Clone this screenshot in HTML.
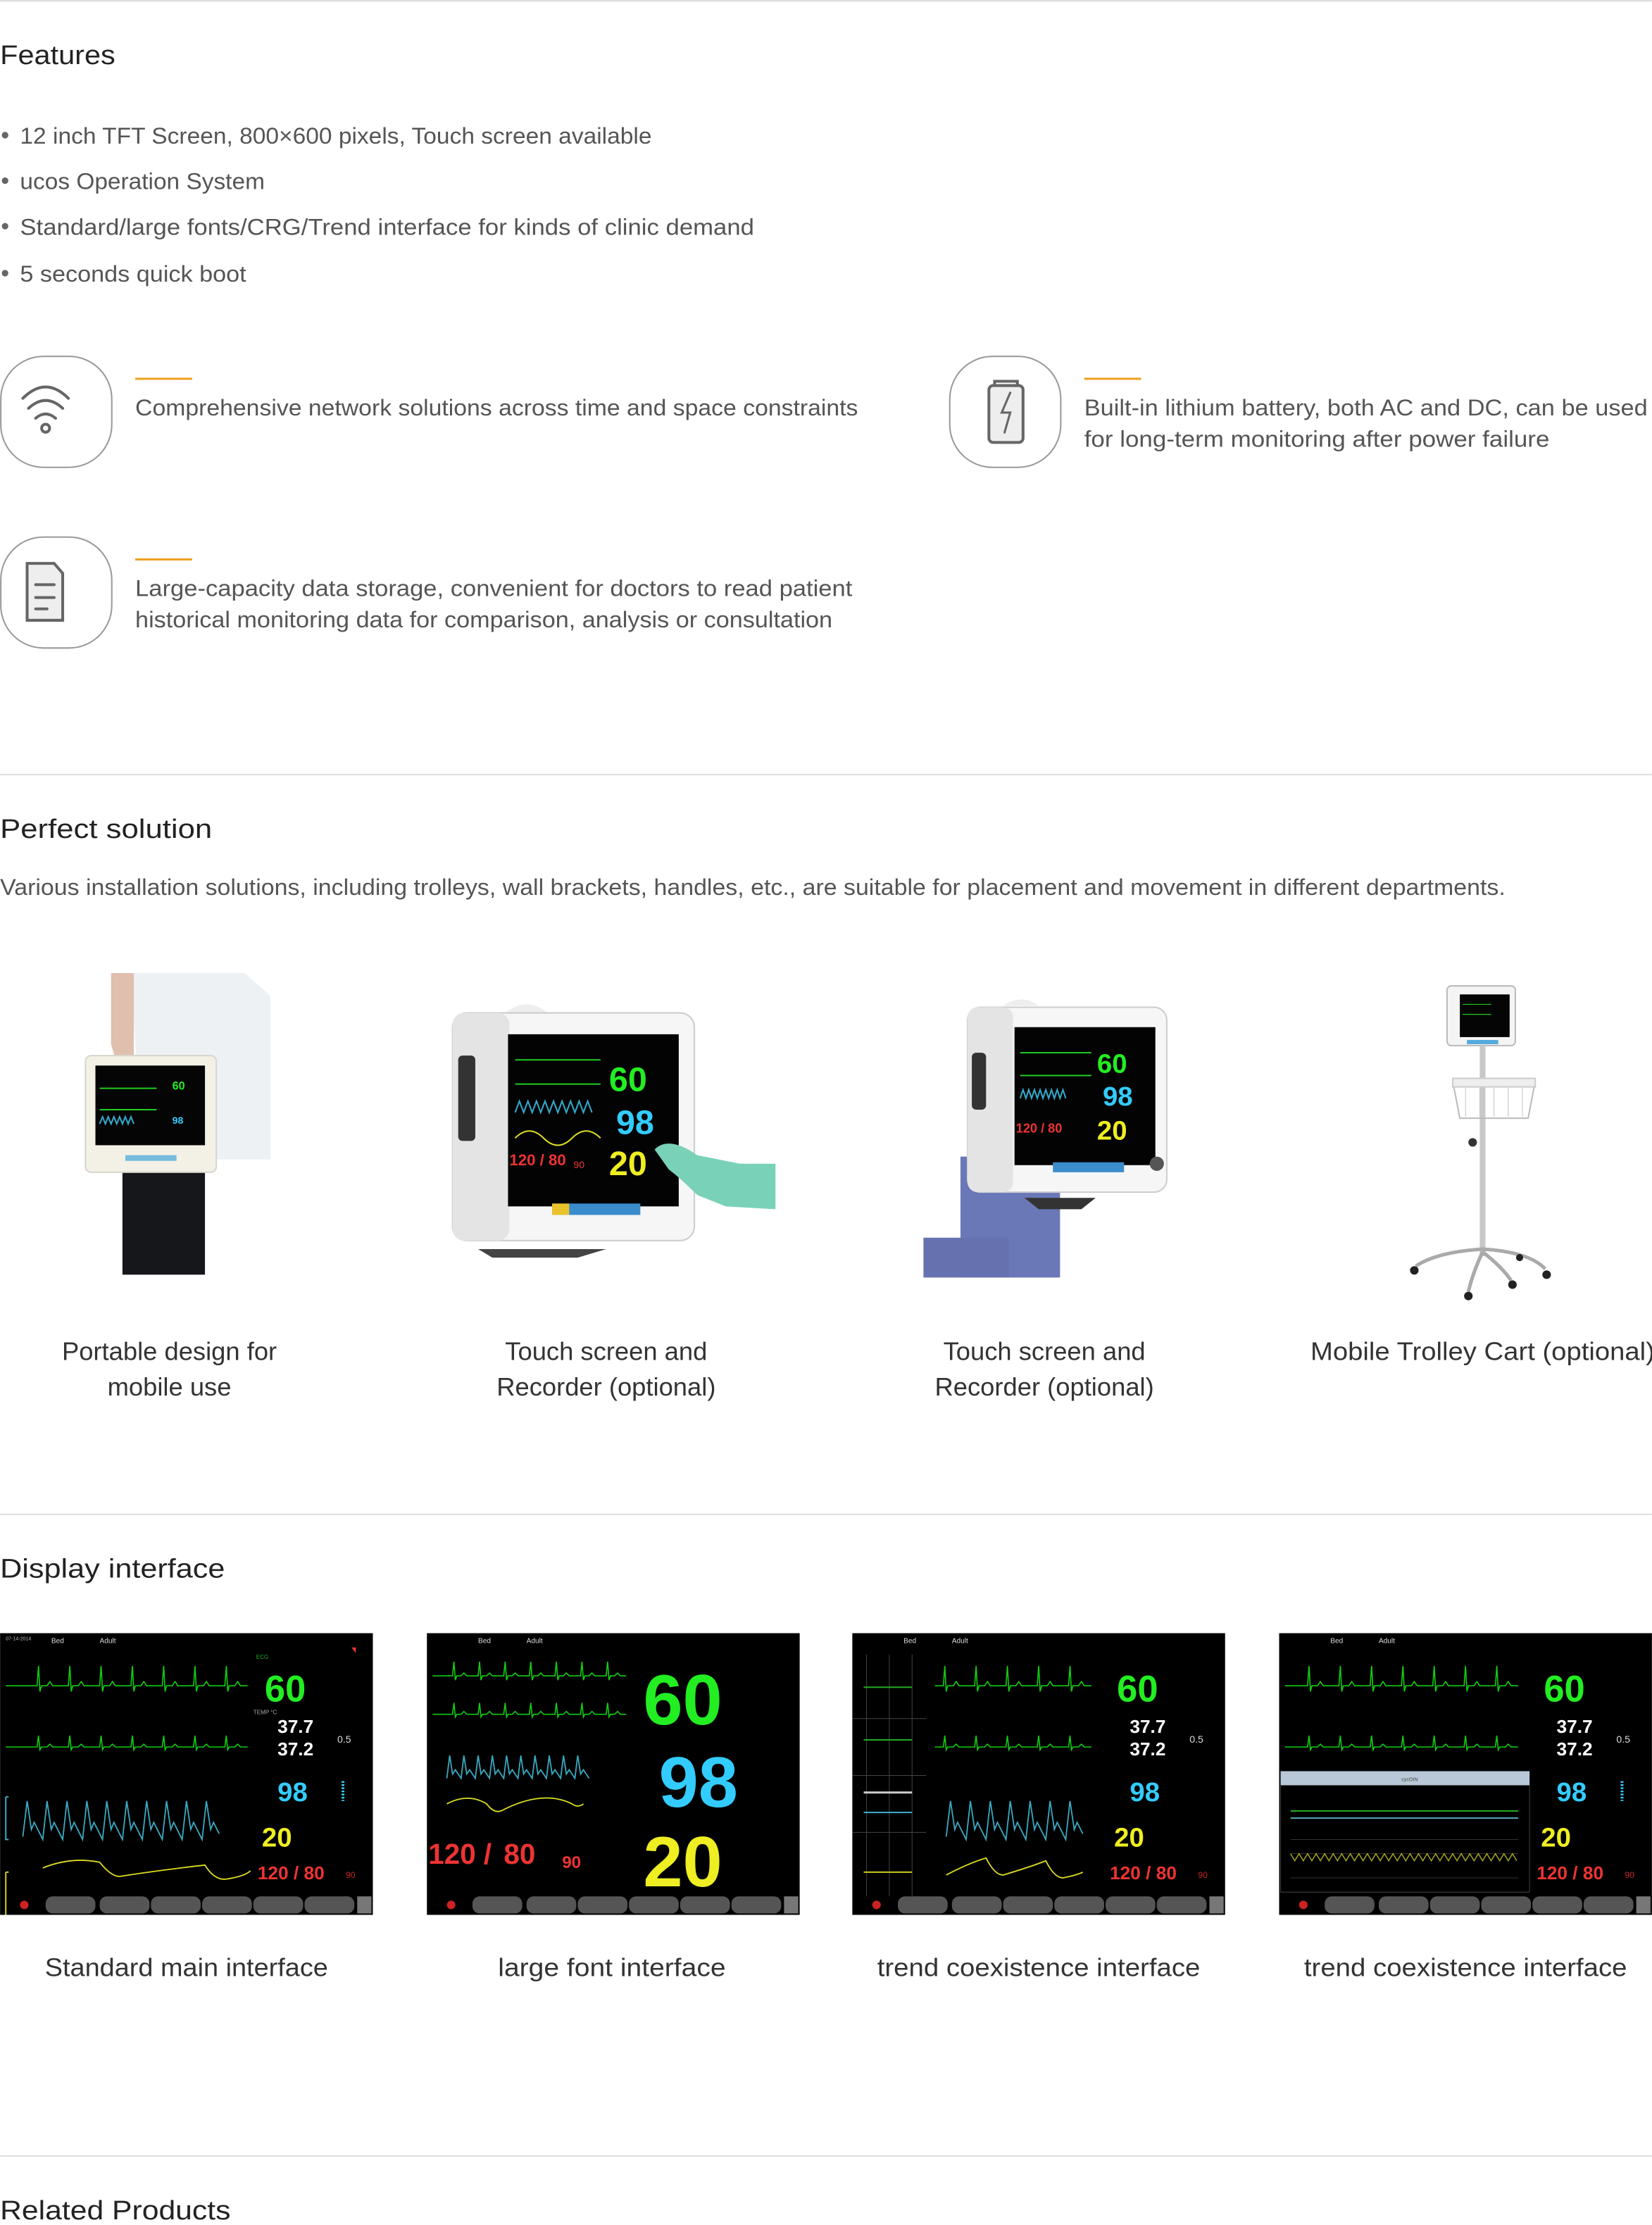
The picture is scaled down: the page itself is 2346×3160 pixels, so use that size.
<!DOCTYPE html>
<html><head><meta charset="utf-8"><style>
html,body{margin:0;padding:0;background:#fff;}
svg{display:block;}
text{font-family:"Liberation Sans",sans-serif;}
.h{font-size:19px;fill:#222;}
.b{font-size:16px;fill:#555;}
.c{font-size:18px;fill:#333;text-anchor:middle;}
.n{font-family:"Liberation Sans",sans-serif;font-weight:bold;}
</style></head><body>
<svg width="2346" height="3160" viewBox="0 0 1161 1564" xmlns="http://www.w3.org/2000/svg">
<rect width="1161" height="1564" fill="#fff"/>
<line x1="0" y1="0.5" x2="1161" y2="0.5" stroke="#ddd" stroke-width="1.5"/>
<text class="h" x="0" y="45" textLength="81" lengthAdjust="spacingAndGlyphs">Features</text>
<g fill="#666"><circle cx="3.5" cy="95" r="2.3"/><circle cx="3.5" cy="127" r="2.3"/><circle cx="3.5" cy="159" r="2.3"/><circle cx="3.5" cy="192" r="2.3"/></g>
<text class="b" x="14" y="101" textLength="444" lengthAdjust="spacingAndGlyphs">12 inch TFT Screen, 800×600 pixels, Touch screen available</text>
<text class="b" x="14" y="133" textLength="172" lengthAdjust="spacingAndGlyphs">ucos Operation System</text>
<text class="b" x="14" y="165" textLength="516" lengthAdjust="spacingAndGlyphs">Standard/large fonts/CRG/Trend interface for kinds of clinic demand</text>
<text class="b" x="14" y="198" textLength="159" lengthAdjust="spacingAndGlyphs">5 seconds quick boot</text>

<!-- icons -->
<g fill="none" stroke="#999" stroke-width="1">
<rect x="0.5" y="250.5" width="78" height="78" rx="30"/>
<rect x="667.5" y="250.5" width="78" height="78" rx="30"/>
<rect x="0.5" y="377.5" width="78" height="78" rx="30"/>
</g>
<g fill="none" stroke="#666" stroke-width="2" stroke-linecap="round">
<path d="M16,280 Q32,264 48,280"/><path d="M20,287 Q32,276 44,287"/><path d="M25,294 Q32,288 39,294"/>
<circle cx="32" cy="301" r="2.8"/>
<rect x="695" y="271" width="24" height="40" rx="3" fill="#eee"/>
<path d="M699,271 v-3 h16 v3"/>
<path d="M710,276 l-6,14 h6 l-4,14" stroke-width="1.5"/>
<path d="M19,396 h19 l6,7 v33 h-25 z" fill="#eee"/>
<path d="M25,411 h13 M25,420 h13 M25,428 h8"/>
</g>
<g fill="#f0a020"><rect x="95" y="265.5" width="40" height="1.5"/><rect x="762" y="265.5" width="40" height="1.5"/><rect x="95" y="392.5" width="40" height="1.5"/></g>
<text class="b" x="95" y="292" textLength="508" lengthAdjust="spacingAndGlyphs">Comprehensive network solutions across time and space constraints</text>
<text class="b" x="762" y="292" textLength="396" lengthAdjust="spacingAndGlyphs">Built-in lithium battery, both AC and DC, can be used</text>
<text class="b" x="762" y="314" textLength="327" lengthAdjust="spacingAndGlyphs">for long-term monitoring after power failure</text>
<text class="b" x="95" y="419" textLength="504" lengthAdjust="spacingAndGlyphs">Large-capacity data storage, convenient for doctors to read patient</text>
<text class="b" x="95" y="441" textLength="490" lengthAdjust="spacingAndGlyphs">historical monitoring data for comparison, analysis or consultation</text>

<line x1="0" y1="544.5" x2="1161" y2="544.5" stroke="#ddd" stroke-width="1"/>
<text class="h" x="0" y="589" textLength="149" lengthAdjust="spacingAndGlyphs">Perfect solution</text>
<text class="b" x="0" y="629" textLength="1058" lengthAdjust="spacingAndGlyphs">Various installation solutions, including trolleys, wall brackets, handles, etc., are suitable for placement and movement in different departments.</text>

<!-- product 1 -->
<path d="M92,684 H172 L190,700 V815 H100 Z" fill="#eef1f4"/>
<path d="M78,684 h16 v60 l8,10 h-18 l-6,-20 z" fill="#e0bfae"/>
<rect x="86" y="818" width="58" height="78" fill="#15171b"/>
<rect x="60" y="742" width="92" height="82" rx="4" fill="#f3f1e6" stroke="#d8d6cc"/>
<rect x="67" y="749" width="77" height="56" fill="#050505"/>
<path d="M70,765 h40 M70,780 h40" stroke="#2c2" stroke-width="1"/>
<path d="M70,790 l2,-5 2,5 2,-5 2,5 2,-5 2,5 2,-5 2,5 2,-5 2,5 2,-5 2,5" stroke="#3ac" fill="none"/>
<text x="121" y="766" font-size="8" fill="#2e2" class="n">60</text>
<text x="121" y="790" font-size="7" fill="#3cf" class="n">98</text>
<rect x="88" y="812" width="36" height="4" fill="#7bd"/>
<!-- product 2 -->
<path d="M355,712 Q370,700 385,712 Z" fill="#eee"/>
<rect x="318" y="712" width="170" height="160" rx="10" fill="#f6f6f6" stroke="#ccc"/>
<rect x="318" y="712" width="40" height="160" rx="8" fill="#e4e4e4"/>
<rect x="322" y="742" width="12" height="60" rx="3" fill="#333"/>
<rect x="357" y="727" width="120" height="121" fill="#030303"/>
<path d="M362,745 h60 M362,762 h60" stroke="#2c2"/>
<path d="M362,782 l3,-8 3,8 3,-8 3,8 3,-8 3,8 3,-8 3,8 3,-8 3,8 3,-8 3,8 3,-8 3,8 3,-8 3,8 3,-8 3,8" stroke="#3ac" fill="none"/>
<path d="M362,800 q10,-10 20,0 t20,0 t20,0" stroke="#dd2" fill="none"/>
<text x="428" y="767" font-size="24" fill="#2e2" class="n">60</text>
<text x="433" y="797" font-size="24" fill="#3cf" class="n">98</text>
<text x="428" y="826" font-size="24" fill="#ee2" class="n">20</text>
<text x="358" y="819" font-size="11" fill="#e33" class="n">120 / 80</text>
<text x="403" y="821" font-size="7" fill="#e33">90</text>
<rect x="388" y="846" width="62" height="8" fill="#3a8ccc"/>
<rect x="388" y="846" width="12" height="8" fill="#ecc22a"/>
<path d="M460,808 Q470,798 490,812 L520,818 L545,818 L545,850 L510,848 L490,840 Q478,828 470,822 Z" fill="#79d2b8"/>
<path d="M336,878 h90 l-20,6 h-60 z" fill="#444"/>
<!-- product 3 -->
<path d="M705,707 Q718,698 730,707 Z" fill="#eee"/>
<rect x="675" y="813" width="70" height="85" fill="#6a78b8"/>
<rect x="649" y="870" width="60" height="28" fill="#6672b0"/>
<rect x="680" y="708" width="140" height="130" rx="9" fill="#f6f6f6" stroke="#ccc"/>
<rect x="680" y="708" width="32" height="130" rx="7" fill="#e4e4e4"/>
<rect x="683" y="740" width="10" height="40" rx="3" fill="#333"/>
<rect x="713" y="722" width="99" height="97" fill="#030303"/>
<path d="M717,740 h50 M717,756 h50" stroke="#2c2"/>
<path d="M717,772 l2,-6 2,6 2,-6 2,6 2,-6 2,6 2,-6 2,6 2,-6 2,6 2,-6 2,6 2,-6 2,6 2,-6 2,6" stroke="#3ac" fill="none"/>
<text x="771" y="754" font-size="19" fill="#2e2" class="n">60</text>
<text x="775" y="777" font-size="19" fill="#3cf" class="n">98</text>
<text x="771" y="801" font-size="19" fill="#ee2" class="n">20</text>
<text x="714" y="796" font-size="9" fill="#e33" class="n">120 / 80</text>
<rect x="740" y="817" width="50" height="7" fill="#3a8ccc"/>
<circle cx="813" cy="818" r="5" fill="#555"/>
<path d="M720,842 h50 l-10,8 h-30 z" fill="#333"/>
<!-- product 4 trolley -->
<rect x="1017" y="693" width="48" height="42" rx="3" fill="#f4f4f4" stroke="#bbb"/>
<rect x="1026" y="699" width="35" height="30" fill="#050505"/>
<path d="M1028,706 h20 M1028,713 h20" stroke="#2c2" stroke-width="0.6"/>
<rect x="1031" y="731" width="22" height="3" fill="#5ad"/>
<rect x="1040" y="735" width="4" height="148" fill="#c8c8c8"/>
<path d="M1021,760 h58 l-5,26 h-48 z" fill="none" stroke="#bbb"/>
<rect x="1021" y="758" width="58" height="6" fill="#eee" stroke="#ccc"/>
<path d="M1030,765 v20 M1040,765 v20 M1050,765 v20 M1060,765 v20 M1070,765 v20" stroke="#ccc" stroke-width="0.6"/>
<circle cx="1035" cy="803" r="3" fill="#333"/>
<g stroke="#aaa" stroke-width="2.5" fill="none">
<path d="M1042,878 Q1010,880 995,890"/><path d="M1042,878 Q1075,880 1086,892"/><path d="M1042,880 Q1035,895 1032,908"/><path d="M1042,880 Q1055,890 1062,900"/>
</g>
<g fill="#222"><circle cx="994" cy="893" r="3"/><circle cx="1087" cy="896" r="3"/><circle cx="1032" cy="911" r="3"/><circle cx="1063" cy="903" r="3"/><circle cx="1068" cy="884" r="2.5"/></g>

<text class="c" x="119" y="956">Portable design for</text>
<text class="c" x="119" y="981">mobile use</text>
<text class="c" x="426" y="956">Touch screen and</text>
<text class="c" x="426" y="981">Recorder (optional)</text>
<text class="c" x="734" y="956">Touch screen and</text>
<text class="c" x="734" y="981">Recorder (optional)</text>
<text class="c" x="1042" y="956" textLength="242" lengthAdjust="spacingAndGlyphs">Mobile Trolley Cart (optional)</text>

<line x1="0" y1="1064.5" x2="1161" y2="1064.5" stroke="#ddd" stroke-width="1"/>
<text class="h" x="0" y="1109" textLength="158" lengthAdjust="spacingAndGlyphs">Display interface</text>

<!-- Screen 1 -->
<g transform="translate(0,1148)">
<rect width="262" height="198" fill="#000"/>
<text x="4" y="5" font-size="3.5" fill="#bbb">07-14-2014</text><text x="36" y="7" font-size="5" fill="#ddd">Bed</text><text x="70" y="7" font-size="5" fill="#ddd">Adult</text>
<text x="180" y="18" font-size="4" fill="#2a2">ECG</text>
<path d="M4,37 h10 l6,0 h6 l1,-14 l1,18 l1,-4 h4 l2,-3 l2,3 h5 h6 l1,-14 l1,18 l1,-4 h4 l2,-3 l2,3 h5 h6 l1,-14 l1,18 l1,-4 h4 l2,-3 l2,3 h5 h6 l1,-14 l1,18 l1,-4 h4 l2,-3 l2,3 h5 h6 l1,-14 l1,18 l1,-4 h4 l2,-3 l2,3 h5 h6 l1,-14 l1,18 l1,-4 h4 l2,-3 l2,3 h5 h6 l1,-14 l1,18 l1,-4 h4 l2,-3 l2,3 h5" stroke="#1c1" fill="none" stroke-width="0.8"/>
<path d="M4,80 h10 l6,0 h6 l1,-8 l1,10 l1,-2 h4 l2,-2 l2,2 h5 h6 l1,-8 l1,10 l1,-2 h4 l2,-2 l2,2 h5 h6 l1,-8 l1,10 l1,-2 h4 l2,-2 l2,2 h5 h6 l1,-8 l1,10 l1,-2 h4 l2,-2 l2,2 h5 h6 l1,-8 l1,10 l1,-2 h4 l2,-2 l2,2 h5 h6 l1,-8 l1,10 l1,-2 h4 l2,-2 l2,2 h5 h6 l1,-8 l1,10 l1,-2 h4 l2,-2 l2,2 h5" stroke="#1c1" fill="none" stroke-width="0.8"/>
<path d="M16,143 l3,-25 l3,20 l2,-5 l6,12 l3,-27 l3,20 l2,-5 l6,12 l3,-27 l3,20 l2,-5 l6,12 l3,-27 l3,20 l2,-5 l6,12 l3,-27 l3,20 l2,-5 l6,12 l3,-27 l3,20 l2,-5 l6,12 l3,-27 l3,20 l2,-5 l6,12 l3,-27 l3,20 l2,-5 l6,12 l3,-27 l3,20 l2,-5 l6,12 l3,-27 l3,20 l2,-5 l4,8" stroke="#3aa8c0" fill="none" stroke-width="0.9"/>
<path d="M4,115 v30 h2 M4,115 h2" stroke="#3aa8c0" fill="none"/>
<path d="M4,168 v30 M4,168 h2" stroke="#cc2" fill="none"/>
<path d="M30,165 q20,-8 40,-4 q8,10 14,10 q25,-4 60,-8 q6,10 14,10 q14,-2 18,-6" stroke="#dd2" fill="none" stroke-width="0.9"/>
<text x="186" y="48" font-size="26" fill="#2e2" class="n">60</text>
<text x="178" y="57" font-size="4" fill="#aaa">TEMP °C</text>
<text x="195" y="70" font-size="13" fill="#fff" class="n">37.7</text>
<text x="195" y="86" font-size="13" fill="#fff" class="n">37.2</text>
<text x="237" y="77" font-size="7" fill="#ddd">0.5</text>
<text x="195" y="118" font-size="19" fill="#3cf" class="n">98</text>
<path d="M241,104 v14" stroke="#3cf" stroke-dasharray="1.2,1" stroke-width="2"/>
<text x="184" y="150" font-size="19" fill="#ee2" class="n">20</text>
<text x="181" y="173" font-size="13" fill="#e33" class="n">120 / 80</text>
<text x="243" y="172" font-size="6" fill="#c22">90</text>
<path d="M247,10 l3,0 l0,4 z" fill="#e33"/>
<rect x="32" y="185" width="35" height="12" rx="5" fill="#555"/><rect x="70" y="185" width="35" height="12" rx="5" fill="#555"/><rect x="106" y="185" width="35" height="12" rx="5" fill="#555"/><rect x="142" y="185" width="35" height="12" rx="5" fill="#555"/><rect x="178" y="185" width="35" height="12" rx="5" fill="#555"/><rect x="214" y="185" width="35" height="12" rx="5" fill="#555"/><rect x="251" y="185" width="10" height="12" fill="#777"/>
<circle cx="17" cy="191" r="3" fill="#c22"/>
</g>

<!-- Screen 2 -->
<g transform="translate(300,1148)">
<rect width="262" height="198" fill="#000"/>
<text x="36" y="7" font-size="5" fill="#ddd">Bed</text><text x="70" y="7" font-size="5" fill="#ddd">Adult</text>
<path d="M4,30 h10 h4 l1,-10 l1,13 l1,-3 h3 l2,-2 l2,2 h4 h4 l1,-10 l1,13 l1,-3 h3 l2,-2 l2,2 h4 h4 l1,-10 l1,13 l1,-3 h3 l2,-2 l2,2 h4 h4 l1,-10 l1,13 l1,-3 h3 l2,-2 l2,2 h4 h4 l1,-10 l1,13 l1,-3 h3 l2,-2 l2,2 h4 h4 l1,-10 l1,13 l1,-3 h3 l2,-2 l2,2 h4 h4 l1,-10 l1,13 l1,-3 h3 l2,-2 l2,2 h4" stroke="#1c1" fill="none" stroke-width="0.8"/>
<path d="M4,57 h10 h4 l1,-8 l1,10 l1,-2 h3 l2,-2 l2,2 h4 h4 l1,-8 l1,10 l1,-2 h3 l2,-2 l2,2 h4 h4 l1,-8 l1,10 l1,-2 h3 l2,-2 l2,2 h4 h4 l1,-8 l1,10 l1,-2 h3 l2,-2 l2,2 h4 h4 l1,-8 l1,10 l1,-2 h3 l2,-2 l2,2 h4 h4 l1,-8 l1,10 l1,-2 h3 l2,-2 l2,2 h4 h4 l1,-8 l1,10 l1,-2 h3 l2,-2 l2,2 h4" stroke="#1c1" fill="none" stroke-width="0.8"/>
<path d="M14,102 l2,-16 l2,13 l2,-3 l4,6 l2,-16 l2,13 l2,-3 l4,6 l2,-16 l2,13 l2,-3 l4,6 l2,-16 l2,13 l2,-3 l4,6 l2,-16 l2,13 l2,-3 l4,6 l2,-16 l2,13 l2,-3 l4,6 l2,-16 l2,13 l2,-3 l4,6 l2,-16 l2,13 l2,-3 l4,6 l2,-16 l2,13 l2,-3 l4,6 l2,-16 l2,13 l2,-3 l4,6" stroke="#3aa8c0" fill="none" stroke-width="0.9"/>
<path d="M14,120 q15,-8 28,0 q6,8 12,4 q28,-14 48,-4 q4,3 8,0" stroke="#dd2" fill="none" stroke-width="0.9"/>
<text x="152" y="64" font-size="50" fill="#2e2" class="n">60</text>
<text x="163" y="122" font-size="50" fill="#3cf" class="n">98</text>
<text x="152" y="178" font-size="50" fill="#ee2" class="n">20</text>
<text x="1" y="162" font-size="20" fill="#e33" class="n">120 /</text>
<text x="54" y="162" font-size="20" fill="#e33" class="n">80</text>
<text x="95" y="165" font-size="12" fill="#e33" class="n">90</text>
<rect x="32" y="185" width="35" height="12" rx="5" fill="#555"/><rect x="70" y="185" width="35" height="12" rx="5" fill="#555"/><rect x="106" y="185" width="35" height="12" rx="5" fill="#555"/><rect x="142" y="185" width="35" height="12" rx="5" fill="#555"/><rect x="178" y="185" width="35" height="12" rx="5" fill="#555"/><rect x="214" y="185" width="35" height="12" rx="5" fill="#555"/><rect x="251" y="185" width="10" height="12" fill="#777"/>
<circle cx="17" cy="191" r="3" fill="#c22"/>
</g>

<!-- Screen 3 -->
<g transform="translate(599,1148)">
<rect width="262" height="198" fill="#000"/>
<text x="36" y="7" font-size="5" fill="#ddd">Bed</text><text x="70" y="7" font-size="5" fill="#ddd">Adult</text>
<g stroke="#444" stroke-width="0.5"><path d="M10,15 v170 M26,15 v170 M42,15 v170 M0,60 h52 M0,100 h52 M0,140 h52"/></g>
<path d="M8,38 h34 M8,75 h34" stroke="#2a2"/><path d="M8,112 h34" stroke="#ccc" stroke-width="1.5"/><path d="M8,126 h34" stroke="#3aa8c0"/><path d="M8,168 h34" stroke="#cc2"/>
<path d="M58,37 h6 l1,-14 l1,18 l1,-4 h4 l2,-3 l2,3 h5 h6 l1,-14 l1,18 l1,-4 h4 l2,-3 l2,3 h5 h6 l1,-14 l1,18 l1,-4 h4 l2,-3 l2,3 h5 h6 l1,-14 l1,18 l1,-4 h4 l2,-3 l2,3 h5 h6 l1,-14 l1,18 l1,-4 h4 l2,-3 l2,3 h5" stroke="#1c1" fill="none" stroke-width="0.8"/>
<path d="M58,80 h6 l1,-8 l1,10 l1,-2 h4 l2,-2 l2,2 h5 h6 l1,-8 l1,10 l1,-2 h4 l2,-2 l2,2 h5 h6 l1,-8 l1,10 l1,-2 h4 l2,-2 l2,2 h5 h6 l1,-8 l1,10 l1,-2 h4 l2,-2 l2,2 h5 h6 l1,-8 l1,10 l1,-2 h4 l2,-2 l2,2 h5" stroke="#1c1" fill="none" stroke-width="0.8"/>
<path d="M66,143 l3,-25 l3,20 l2,-5 l6,12 l3,-27 l3,20 l2,-5 l6,12 l3,-27 l3,20 l2,-5 l6,12 l3,-27 l3,20 l2,-5 l6,12 l3,-27 l3,20 l2,-5 l6,12 l3,-27 l3,20 l2,-5 l6,12 l3,-27 l3,20 l2,-5 l4,8" stroke="#3aa8c0" fill="none" stroke-width="0.9"/>
<path d="M66,170 q15,-8 28,-12 q6,12 12,12 q20,-6 30,-10 q6,12 12,12 q10,-2 14,-4" stroke="#dd2" fill="none" stroke-width="0.9"/>
<text x="186" y="48" font-size="26" fill="#2e2" class="n">60</text>
<text x="195" y="70" font-size="13" fill="#fff" class="n">37.7</text>
<text x="195" y="86" font-size="13" fill="#fff" class="n">37.2</text>
<text x="237" y="77" font-size="7" fill="#ddd">0.5</text>
<text x="195" y="118" font-size="19" fill="#3cf" class="n">98</text>
<text x="184" y="150" font-size="19" fill="#ee2" class="n">20</text>
<text x="181" y="173" font-size="13" fill="#e33" class="n">120 / 80</text>
<text x="243" y="172" font-size="6" fill="#c22">90</text>
<rect x="32" y="185" width="35" height="12" rx="5" fill="#555"/><rect x="70" y="185" width="35" height="12" rx="5" fill="#555"/><rect x="106" y="185" width="35" height="12" rx="5" fill="#555"/><rect x="142" y="185" width="35" height="12" rx="5" fill="#555"/><rect x="178" y="185" width="35" height="12" rx="5" fill="#555"/><rect x="214" y="185" width="35" height="12" rx="5" fill="#555"/><rect x="251" y="185" width="10" height="12" fill="#777"/>
<circle cx="17" cy="191" r="3" fill="#c22"/>
</g>

<!-- Screen 4 -->
<g transform="translate(899,1148)">
<rect width="262" height="198" fill="#000"/>
<text x="36" y="7" font-size="5" fill="#ddd">Bed</text><text x="70" y="7" font-size="5" fill="#ddd">Adult</text>
<path d="M4,37 h10 h6 l1,-14 l1,18 l1,-4 h4 l2,-3 l2,3 h5 h6 l1,-14 l1,18 l1,-4 h4 l2,-3 l2,3 h5 h6 l1,-14 l1,18 l1,-4 h4 l2,-3 l2,3 h5 h6 l1,-14 l1,18 l1,-4 h4 l2,-3 l2,3 h5 h6 l1,-14 l1,18 l1,-4 h4 l2,-3 l2,3 h5 h6 l1,-14 l1,18 l1,-4 h4 l2,-3 l2,3 h5 h6 l1,-14 l1,18 l1,-4 h4 l2,-3 l2,3 h5" stroke="#1c1" fill="none" stroke-width="0.8"/>
<path d="M4,80 h10 h6 l1,-8 l1,10 l1,-2 h4 l2,-2 l2,2 h5 h6 l1,-8 l1,10 l1,-2 h4 l2,-2 l2,2 h5 h6 l1,-8 l1,10 l1,-2 h4 l2,-2 l2,2 h5 h6 l1,-8 l1,10 l1,-2 h4 l2,-2 l2,2 h5 h6 l1,-8 l1,10 l1,-2 h4 l2,-2 l2,2 h5 h6 l1,-8 l1,10 l1,-2 h4 l2,-2 l2,2 h5 h6 l1,-8 l1,10 l1,-2 h4 l2,-2 l2,2 h5" stroke="#1c1" fill="none" stroke-width="0.8"/>
<rect x="1" y="97" width="175" height="10" fill="#b8c8d8"/>
<text x="86" y="104" font-size="3.5" fill="#444">cycOIN</text>
<path d="M8,125 h160" stroke="#2a2"/><path d="M8,130 h160" stroke="#5ab"/>
<path d="M8,145 h160 M8,155 h160 M8,172 h160" stroke="#333" stroke-width="0.5"/>
<path d="M8,155 l3,5 3,-5 3,5 3,-5 3,5 3,-5 3,5 3,-5 3,5 3,-5 3,5 3,-5 3,5 3,-5 3,5 3,-5 3,5 3,-5 3,5 3,-5 3,5 3,-5 3,5 3,-5 3,5 3,-5 3,5 3,-5 3,5 3,-5 3,5 3,-5 3,5 3,-5 3,5 3,-5 3,5 3,-5 3,5 3,-5 3,5 3,-5 3,5 3,-5 3,5 3,-5 3,5 3,-5 3,5 3,-5 3,5 3,-5 3,5" stroke="#aa2" fill="none" stroke-width="0.7"/>
<rect x="1" y="107" width="175" height="75" fill="none" stroke="#444" stroke-width="0.5"/>
<text x="186" y="48" font-size="26" fill="#2e2" class="n">60</text>
<text x="195" y="70" font-size="13" fill="#fff" class="n">37.7</text>
<text x="195" y="86" font-size="13" fill="#fff" class="n">37.2</text>
<text x="237" y="77" font-size="7" fill="#ddd">0.5</text>
<text x="195" y="118" font-size="19" fill="#3cf" class="n">98</text>
<path d="M241,104 v14" stroke="#3cf" stroke-dasharray="1.2,1" stroke-width="2"/>
<text x="184" y="150" font-size="19" fill="#ee2" class="n">20</text>
<text x="181" y="173" font-size="13" fill="#e33" class="n">120 / 80</text>
<text x="243" y="172" font-size="6" fill="#c22">90</text>
<rect x="32" y="185" width="35" height="12" rx="5" fill="#555"/><rect x="70" y="185" width="35" height="12" rx="5" fill="#555"/><rect x="106" y="185" width="35" height="12" rx="5" fill="#555"/><rect x="142" y="185" width="35" height="12" rx="5" fill="#555"/><rect x="178" y="185" width="35" height="12" rx="5" fill="#555"/><rect x="214" y="185" width="35" height="12" rx="5" fill="#555"/><rect x="251" y="185" width="10" height="12" fill="#777"/>
<circle cx="17" cy="191" r="3" fill="#c22"/>
</g>

<text class="c" x="131" y="1389" textLength="199" lengthAdjust="spacingAndGlyphs">Standard main interface</text>
<text class="c" x="430" y="1389" textLength="160" lengthAdjust="spacingAndGlyphs">large font interface</text>
<text class="c" x="730" y="1389" textLength="227" lengthAdjust="spacingAndGlyphs">trend coexistence interface</text>
<text class="c" x="1030" y="1389" textLength="227" lengthAdjust="spacingAndGlyphs">trend coexistence interface</text>

<line x1="0" y1="1515.5" x2="1161" y2="1515.5" stroke="#ddd" stroke-width="1"/>
<text class="h" x="0" y="1560" textLength="162" lengthAdjust="spacingAndGlyphs">Related Products</text>
</svg>
</body></html>
